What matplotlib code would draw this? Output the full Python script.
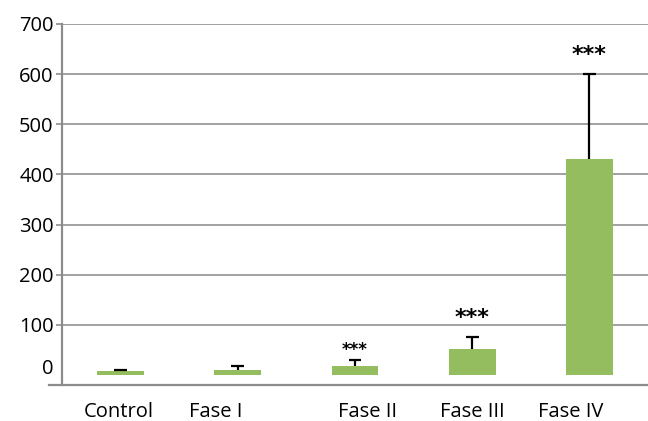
import matplotlib
matplotlib.use("Agg")

import matplotlib.pyplot as plt
import matplotlib.transforms as mtransforms

# values
groups = ["Control", "Fase I", "Fase II", "Fase III", "Fase IV"]
means = [7, 10, 17, 52, 430]
err_up = [2, 8, 13, 24, 170]
stars = ["", "", "***", "***", "***"]
y_ticks = [0, 100, 200, 300, 400, 500, 600, 700]

# layout tweaks (labels in the original are not centred under the bars)
label_shift = [-0.02, -0.19, 0.11, 0.0, -0.16]
star_size = [0, 0, 12, 16, 16]
star_off = [0, 0, 3.5, 9.5, 9.5]

plt.rcParams['font.family'] = ['Open Sans', 'DejaVu Sans']

fig = plt.figure(figsize=(6.48, 4.21), dpi=100)
ax = fig.add_axes([0.0957, 0.0855, 0.9043, 0.8575])

x = list(range(len(groups)))
ax.bar(x, means, width=0.4, color='#93bd5f', zorder=3)

# upper error bars only
tops = [m + e for m, e in zip(means, err_up)]
ax.vlines(x, means, tops, color='black', lw=1.6, zorder=4)
ax.hlines(tops, [i - 0.055 for i in x], [i + 0.055 for i in x], color='black', lw=1.6, zorder=4)

# significance marks
for i, s in enumerate(stars):
    if not s:
        continue
    ax.annotate(s, (x[i], tops[i]), xytext=(0, star_off[i]),
                textcoords='offset points', ha='center', va='baseline',
                fontsize=star_size[i], fontweight='bold', family='DejaVu Sans')

ax.set_xlim(-0.5, 4.5)
ax.set_ylim(-20, 700)
ax.set_yticks(y_ticks)
ax.set_yticklabels([str(v) for v in y_ticks], fontsize=14.5)
ax.set_xticks(x)
ax.set_xticklabels(groups, fontsize=14.5)
ax.tick_params(axis='x', length=0, pad=12)
ax.tick_params(axis='y', length=4, width=1.2, color='#8c8c8c', pad=2)

for lab, dx in zip(ax.get_xticklabels(), label_shift):
    lab.set_transform(lab.get_transform() + mtransforms.ScaledTranslation(dx * 1.172, 0, fig.dpi_scale_trans))

# gridlines, none at zero
for v in y_ticks[1:]:
    ax.axhline(v, color='#9a9a9a', lw=1.3, zorder=1)

for side in ['top', 'right', 'bottom']:
    ax.spines[side].set_visible(False)
ax.spines['left'].set_color('#8c8c8c')
ax.spines['left'].set_linewidth(1.6)
ax.spines['left'].set_bounds(-20, 700)
ax.axhline(-20, xmin=-0.022, xmax=1, color='#8c8c8c', lw=1.6, clip_on=False, zorder=2)

# zero label sits a little higher in the original, no tick mark there
ax.yaxis.get_major_ticks()[0].tick1line.set_visible(False)
lab0 = ax.get_yticklabels()[0]
lab0.set_transform(lab0.get_transform() + mtransforms.ScaledTranslation(0, 8 / 100, fig.dpi_scale_trans))

fig.savefig("out.png", dpi=100)
